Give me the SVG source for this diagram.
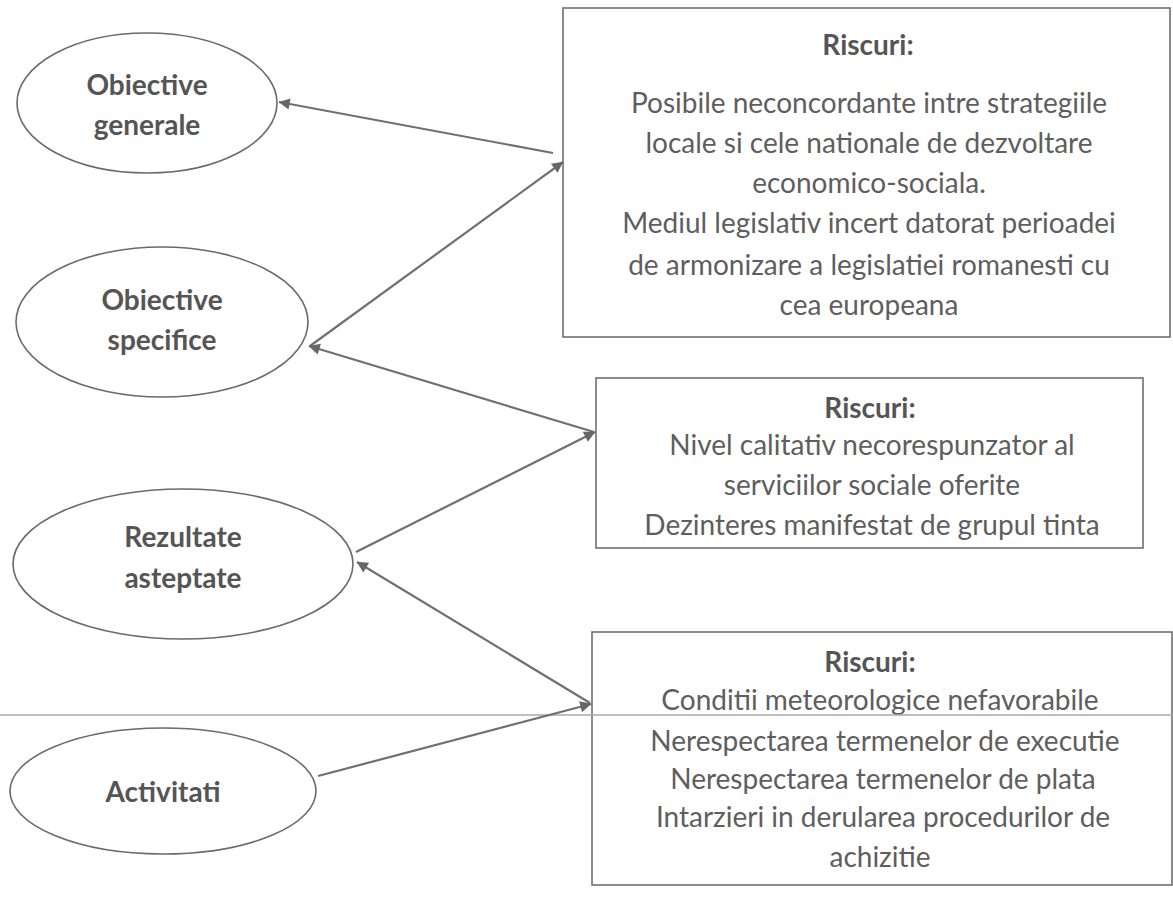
<svg xmlns="http://www.w3.org/2000/svg" width="1173" height="897" viewBox="0 0 1173 897">
<style>
.bg{fill:#ffffff}
.ell{fill:#ffffff;stroke:#6a6a6a;stroke-width:1.6}
.box{fill:#ffffff;stroke:#6f6f6f;stroke-width:1.6}
.t{font-family:Lato,"Liberation Sans",sans-serif;font-size:28px;fill:#5e5e5e;text-anchor:middle}
.b{font-weight:bold;fill:#555555}
.c{stroke:#707070;stroke-width:2.2;fill:none}
.rule{stroke:#a8a8a8;stroke-width:1.5}
</style>
<defs>
<marker id="ah" viewBox="0 0 10 10" refX="9" refY="5" markerWidth="7" markerHeight="7" markerUnits="userSpaceOnUse" orient="auto" overflow="visible">
<path d="M0,0 L10,5 L0,10 Z" fill="#666666" transform="scale(1.6) translate(-4,-1.9)"/>
</marker>
</defs>
<rect class="bg" x="0" y="0" width="1173" height="897"/>
<g id="n-obiective-generale">
<ellipse class="ell" cx="147" cy="103" rx="130" ry="70"/>
<text class="t b" x="147" y="95">Obiective</text>
<text class="t b" x="147" y="135">generale</text>
</g>
<g id="n-obiective-specifice">
<ellipse class="ell" cx="162" cy="322" rx="146" ry="75"/>
<text class="t b" x="162" y="310">Obiective</text>
<text class="t b" x="162" y="350">specifice</text>
</g>
<g id="n-rezultate">
<ellipse class="ell" cx="183" cy="564" rx="170" ry="75"/>
<text class="t b" x="183" y="547">Rezultate</text>
<text class="t b" x="183" y="588">asteptate</text>
</g>
<g id="n-activitati">
<ellipse class="ell" cx="163" cy="791" rx="153" ry="63"/>
<text class="t b" x="163" y="802">Activitati</text>
</g>
<g id="n-riscuri-1">
<rect class="box" x="563" y="8" width="607" height="329"/>
<text class="t b" x="868" y="55">Riscuri:</text>
<text class="t" x="869" y="113">Posibile neconcordante intre strategiile</text>
<text class="t" x="869" y="153">locale si cele nationale de dezvoltare</text>
<text class="t" x="869" y="193">economico-sociala.</text>
<text class="t" x="869" y="233">Mediul legislativ incert datorat perioadei</text>
<text class="t" x="869" y="275">de armonizare a legislatiei romanesti cu</text>
<text class="t" x="869" y="315">cea europeana</text>
</g>
<g id="n-riscuri-2">
<rect class="box" x="596" y="378" width="547" height="170"/>
<text class="t b" x="870" y="418">Riscuri:</text>
<text class="t" x="872" y="455">Nivel calitativ necorespunzator al</text>
<text class="t" x="872" y="495">serviciilor sociale oferite</text>
<text class="t" x="872" y="535">Dezinteres manifestat de grupul tinta</text>
</g>
<g id="n-riscuri-3">
<rect class="box" x="592" y="632" width="580" height="253"/>
<text class="t b" x="870" y="672">Riscuri:</text>
<text class="t" x="880" y="710">Conditii meteorologice nefavorabile</text>
<text class="t" x="885" y="751">Nerespectarea termenelor de executie</text>
<text class="t" x="883" y="789">Nerespectarea termenelor de plata</text>
<text class="t" x="883" y="827">Intarzieri in derularea procedurilor de</text>
<text class="t" x="880" y="867">achizitie</text>
</g>
<line class="rule" x1="0" y1="715" x2="1173" y2="715"/>
<g id="connectors">
<line class="c" x1="553" y1="153" x2="279" y2="102" marker-end="url(#ah)"/>
<line class="c" x1="310" y1="346" x2="563" y2="162" marker-end="url(#ah)"/>
<line class="c" x1="594" y1="432" x2="309" y2="346" marker-end="url(#ah)"/>
<line class="c" x1="356" y1="552" x2="595" y2="432" marker-end="url(#ah)"/>
<line class="c" x1="590" y1="703" x2="357" y2="562" marker-end="url(#ah)"/>
<line class="c" x1="318" y1="776" x2="591" y2="704" marker-end="url(#ah)"/>
</g>
</svg>
